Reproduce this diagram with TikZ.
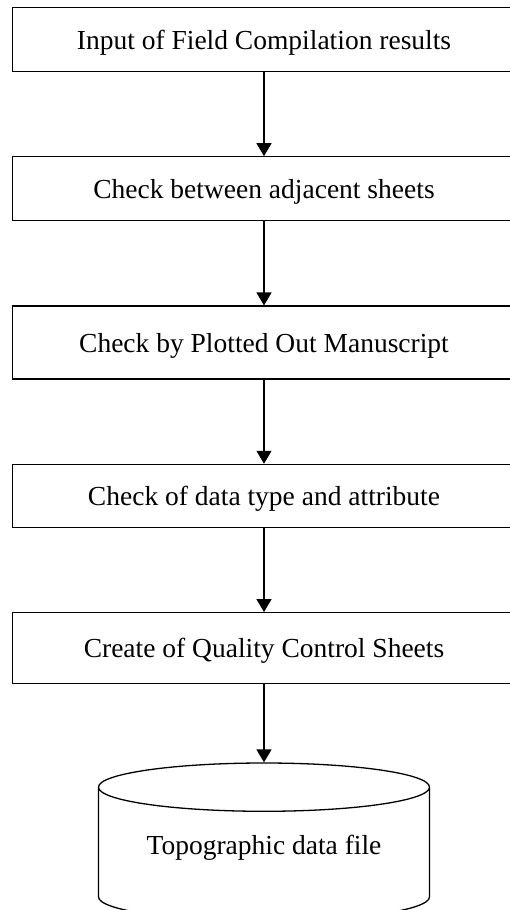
\documentclass[tikz,border=0pt]{standalone}
\usepackage{fontspec}
\setmainfont{Liberation Serif}
\usetikzlibrary{positioning,shapes.geometric,arrows.meta}

\begin{document}
\begin{tikzpicture}[auto,node distance=84pt,
    stepbox/.style={draw,line width=1.3pt,minimum width=503pt,minimum height=64pt,
        text depth=0pt,font=\fontsize{27.5}{33}\selectfont},
    datastore/.style={draw,line width=1.3pt,cylinder,shape border rotate=90,aspect=0.2,
        minimum width=331pt,minimum height=158pt,text depth=24pt,
        font=\fontsize{27.5}{33}\selectfont}]
    \useasboundingbox (0pt,0pt) rectangle (509pt,-910pt);
    \node[stepbox] at (264pt,-39.5pt) (input) {Input of Field Compilation results};
    \node[stepbox,below=of input]                     (adjacent) {Check between adjacent sheets};
    \node[stepbox,below=of adjacent,minimum height=73pt] (plotted)  {Check by Plotted Out Manuscript};
    \node[stepbox,below=of plotted,minimum height=63pt]  (datatype) {Check of data type and attribute};
    \node[stepbox,below=of datatype,minimum height=71pt] (qcsheets) {Create of Quality Control Sheets};
    \node[datastore,below=78pt of qcsheets]           (topofile) {Topographic data file};
    %
    \path[-{Triangle[width=15pt,length=13pt]},line width=1.3pt]
        (input)    edge (adjacent)
        (adjacent) edge (plotted)
        (plotted)  edge (datatype)
        (datatype) edge (qcsheets)
        (qcsheets) edge (topofile)
    ; %-path-%
\end{tikzpicture}
\end{document}
